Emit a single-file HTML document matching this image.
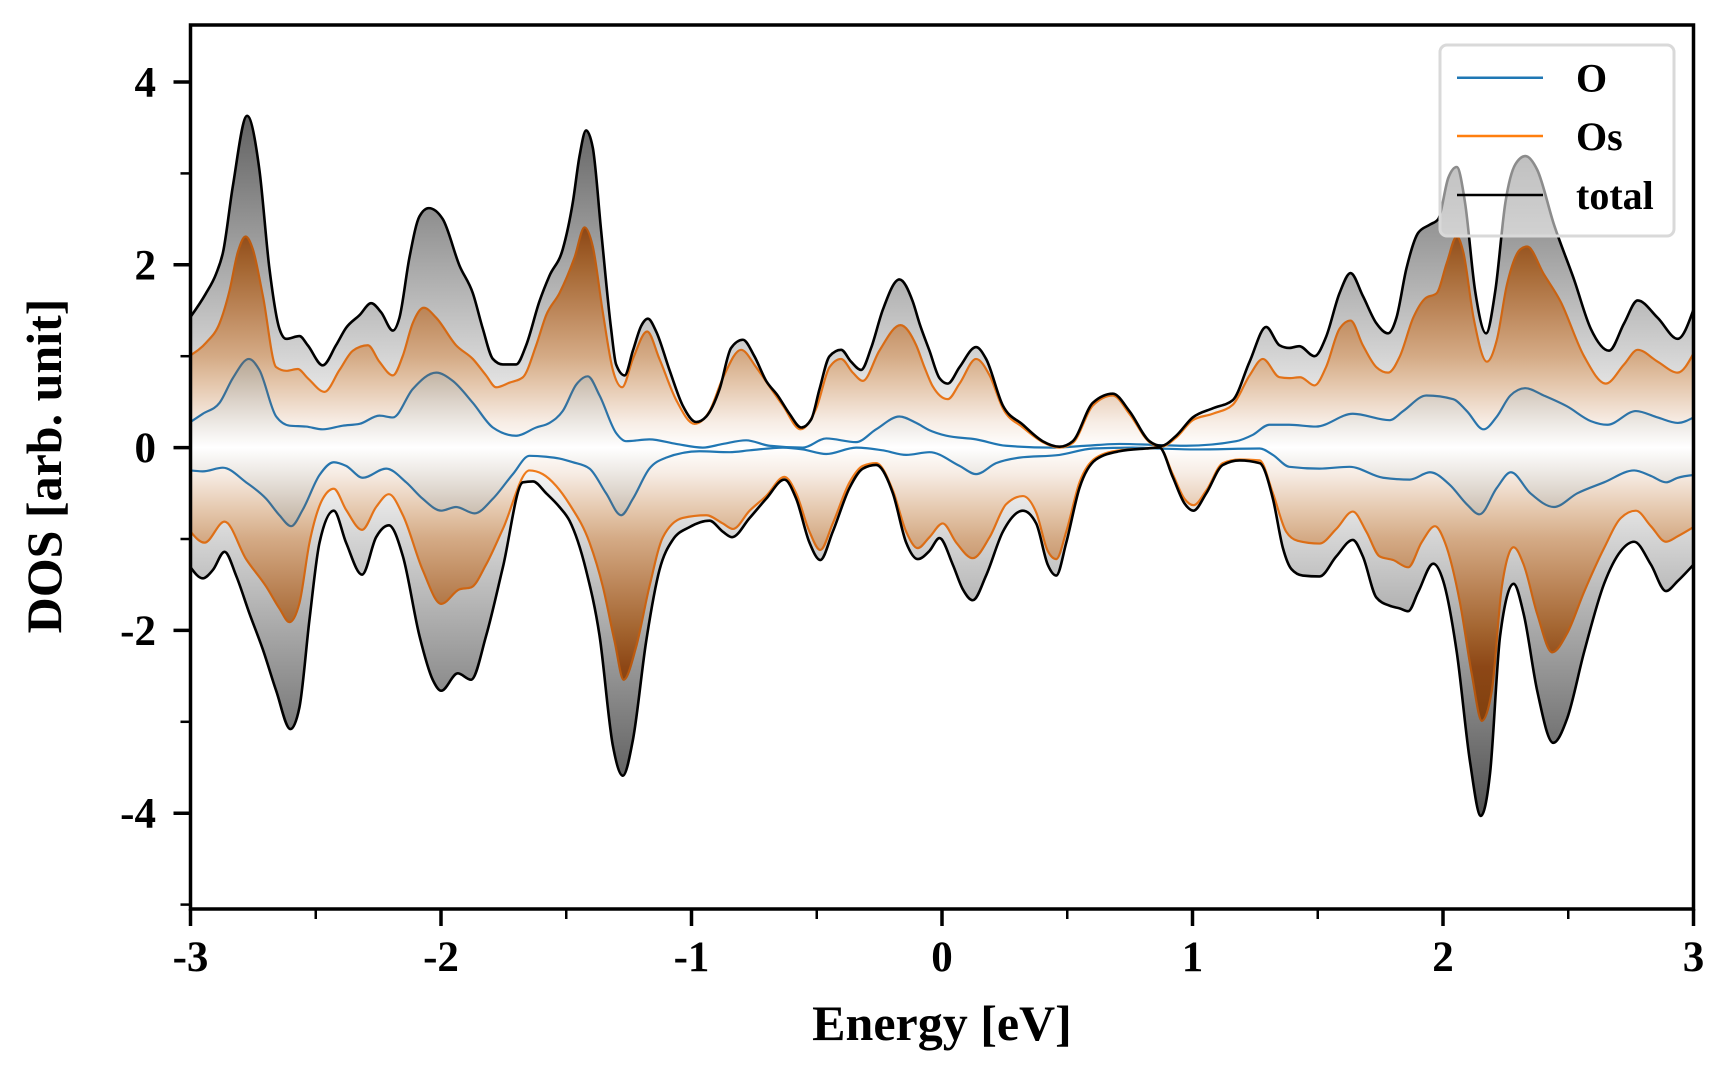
<!DOCTYPE html>
<html>
<head>
<meta charset="utf-8">
<style>
  html, body { margin: 0; padding: 0; background: #ffffff; }
  body { width: 1728px; height: 1080px; overflow: hidden; }
  svg { display: block; }
  .lbl { font-family: "Liberation Serif", "Times New Roman", serif; font-weight: bold; fill: #000; }
</style>
</head>
<body>
<svg id="chart" width="1728" height="1080" viewBox="0 0 1728 1080" xmlns="http://www.w3.org/2000/svg">
  <defs>
    <clipPath id="clip"><rect x="190.5" y="25" width="1503" height="884"/></clipPath>
    <linearGradient id="gT" gradientUnits="userSpaceOnUse" x1="0" y1="-9.4" x2="0" y2="904.6">
      <stop offset="0" stop-color="#3a3a3a"/>
      <stop offset="0.1" stop-color="#525252"/>
      <stop offset="0.2" stop-color="#7c7c7c"/>
      <stop offset="0.3" stop-color="#a8a8a8"/>
      <stop offset="0.4" stop-color="#d4d4d4"/>
      <stop offset="0.45" stop-color="#ebebeb"/>
      <stop offset="0.5" stop-color="#ffffff"/>
      <stop offset="0.55" stop-color="#ebebeb"/>
      <stop offset="0.6" stop-color="#d4d4d4"/>
      <stop offset="0.7" stop-color="#a8a8a8"/>
      <stop offset="0.8" stop-color="#7c7c7c"/>
      <stop offset="0.9" stop-color="#525252"/>
      <stop offset="1" stop-color="#3a3a3a"/>
    </linearGradient>
    <linearGradient id="gS" gradientUnits="userSpaceOnUse" x1="0" y1="-9.4" x2="0" y2="904.6">
      <stop offset="0" stop-color="#6a340a"/>
      <stop offset="0.2" stop-color="#80400e"/>
      <stop offset="0.26" stop-color="#8d4716"/>
      <stop offset="0.3" stop-color="#a3642f"/>
      <stop offset="0.35" stop-color="#bc8659"/>
      <stop offset="0.4" stop-color="#d4aa85"/>
      <stop offset="0.43" stop-color="#e4c6ab"/>
      <stop offset="0.47" stop-color="#f6ebe2"/>
      <stop offset="0.5" stop-color="#ffffff"/>
      <stop offset="0.53" stop-color="#f6ebe2"/>
      <stop offset="0.57" stop-color="#e4c6ab"/>
      <stop offset="0.6" stop-color="#d4aa85"/>
      <stop offset="0.65" stop-color="#bc8659"/>
      <stop offset="0.7" stop-color="#a3642f"/>
      <stop offset="0.74" stop-color="#8d4716"/>
      <stop offset="0.8" stop-color="#80400e"/>
      <stop offset="1" stop-color="#6a340a"/>
    </linearGradient>
    <linearGradient id="gO" gradientUnits="userSpaceOnUse" x1="0" y1="-9.4" x2="0" y2="904.6">
      <stop offset="0" stop-color="#605448"/>
      <stop offset="0.3" stop-color="#8a7a68"/>
      <stop offset="0.4" stop-color="#b6a591"/>
      <stop offset="0.42" stop-color="#c4b6a6"/>
      <stop offset="0.45" stop-color="#dcd3ca"/>
      <stop offset="0.475" stop-color="#eeeae6"/>
      <stop offset="0.5" stop-color="#ffffff"/>
      <stop offset="0.525" stop-color="#eeeae6"/>
      <stop offset="0.55" stop-color="#dcd3ca"/>
      <stop offset="0.58" stop-color="#c4b6a6"/>
      <stop offset="0.6" stop-color="#b6a591"/>
      <stop offset="0.7" stop-color="#8a7a68"/>
      <stop offset="1" stop-color="#605448"/>
    </linearGradient>
    <linearGradient id="sO" gradientUnits="userSpaceOnUse" x1="0" y1="-9.4" x2="0" y2="904.6">
      <stop offset="0" stop-color="#4d6b80"/>
      <stop offset="0.4" stop-color="#4d6b80"/>
      <stop offset="0.47" stop-color="#2a74ab"/>
      <stop offset="0.5" stop-color="#1f77b4"/>
      <stop offset="0.53" stop-color="#2a74ab"/>
      <stop offset="0.6" stop-color="#4d6b80"/>
      <stop offset="1" stop-color="#4d6b80"/>
    </linearGradient>
    <linearGradient id="sS" gradientUnits="userSpaceOnUse" x1="0" y1="-9.4" x2="0" y2="904.6">
      <stop offset="0" stop-color="#a8500c"/>
      <stop offset="0.26" stop-color="#b8580e"/>
      <stop offset="0.4" stop-color="#dc6e16"/>
      <stop offset="0.45" stop-color="#e9761a"/>
      <stop offset="0.5" stop-color="#f5801a"/>
      <stop offset="0.55" stop-color="#e9761a"/>
      <stop offset="0.6" stop-color="#dc6e16"/>
      <stop offset="0.74" stop-color="#b8580e"/>
      <stop offset="1" stop-color="#a8500c"/>
    </linearGradient>
  </defs>

  <g id="plot" clip-path="url(#clip)"></g>

  <!-- spines -->
  <rect x="190.5" y="25" width="1503" height="884" fill="none" stroke="#000" stroke-width="3.5"/>

  <!-- x ticks -->
  <g stroke="#000" stroke-width="3.5">
    <line x1="190.5" y1="909" x2="190.5" y2="926"/>
    <line x1="441" y1="909" x2="441" y2="926"/>
    <line x1="691.5" y1="909" x2="691.5" y2="926"/>
    <line x1="942" y1="909" x2="942" y2="926"/>
    <line x1="1192.5" y1="909" x2="1192.5" y2="926"/>
    <line x1="1443" y1="909" x2="1443" y2="926"/>
    <line x1="1693.5" y1="909" x2="1693.5" y2="926"/>
  </g>
  <g stroke="#000" stroke-width="2.5">
    <line x1="315.75" y1="909" x2="315.75" y2="919"/>
    <line x1="566.25" y1="909" x2="566.25" y2="919"/>
    <line x1="816.75" y1="909" x2="816.75" y2="919"/>
    <line x1="1067.25" y1="909" x2="1067.25" y2="919"/>
    <line x1="1317.75" y1="909" x2="1317.75" y2="919"/>
    <line x1="1568.25" y1="909" x2="1568.25" y2="919"/>
  </g>
  <!-- y ticks -->
  <g stroke="#000" stroke-width="3.5">
    <line x1="190.5" y1="82" x2="173.5" y2="82"/>
    <line x1="190.5" y1="264.8" x2="173.5" y2="264.8"/>
    <line x1="190.5" y1="447.6" x2="173.5" y2="447.6"/>
    <line x1="190.5" y1="630.4" x2="173.5" y2="630.4"/>
    <line x1="190.5" y1="813.2" x2="173.5" y2="813.2"/>
  </g>
  <g stroke="#000" stroke-width="2.5">
    <line x1="190.5" y1="173.4" x2="180.5" y2="173.4"/>
    <line x1="190.5" y1="356.2" x2="180.5" y2="356.2"/>
    <line x1="190.5" y1="539" x2="180.5" y2="539"/>
    <line x1="190.5" y1="721.8" x2="180.5" y2="721.8"/>
    <line x1="190.5" y1="904.6" x2="180.5" y2="904.6"/>
  </g>

  <!-- tick labels -->
  <g class="lbl" font-size="43" text-anchor="middle">
    <text x="190.5" y="971">-3</text>
    <text x="441" y="971">-2</text>
    <text x="691.5" y="971">-1</text>
    <text x="942" y="971">0</text>
    <text x="1192.5" y="971">1</text>
    <text x="1443" y="971">2</text>
    <text x="1693.5" y="971">3</text>
  </g>
  <g class="lbl" font-size="43" text-anchor="end">
    <text x="156" y="96.5">4</text>
    <text x="156" y="279.3">2</text>
    <text x="156" y="462.1">0</text>
    <text x="156" y="644.9">-2</text>
    <text x="156" y="827.7">-4</text>
  </g>

  <!-- axis labels -->
  <text class="lbl" x="942" y="1040" font-size="50" text-anchor="middle">Energy [eV]</text>
  <text class="lbl" font-size="50" text-anchor="middle" transform="translate(61,466) rotate(-90)">DOS [arb. unit]</text>

  <!-- legend -->
  <rect x="1440" y="45" width="234" height="191" rx="7" ry="7" fill="#ffffff" fill-opacity="0.55" stroke="#d9d9d9" stroke-width="3"/>
  <line x1="1457" y1="77.7" x2="1543" y2="77.7" stroke="#1f77b4" stroke-width="2.5"/>
  <line x1="1457" y1="136" x2="1543" y2="136" stroke="#ff7f0e" stroke-width="2.5"/>
  <line x1="1457" y1="195" x2="1543" y2="195" stroke="#000000" stroke-width="2.5"/>
  <g class="lbl" font-size="40">
    <text x="1576" y="91.5">O</text>
    <text x="1576" y="150">Os</text>
    <text x="1576" y="209">total</text>
  </g>
</svg>

<script>
(function(){
  var X = function(e){ return 190.5 + (e + 3) * 250.5; };
  var Y = function(d){ return 447.6 - d * 91.4; };

  var tu = [[-3.0,1.43],[-2.94,1.68],[-2.898,1.90],[-2.87,2.14],[-2.831,2.86],[-2.774,3.63],[-2.725,3.04],[-2.685,1.96],[-2.645,1.30],[-2.618,1.19],[-2.565,1.22],[-2.532,1.12],[-2.472,0.90],[-2.419,1.12],[-2.379,1.31],[-2.325,1.45],[-2.279,1.58],[-2.239,1.48],[-2.192,1.28],[-2.166,1.42],[-2.126,2.08],[-2.086,2.53],[-2.049,2.62],[-1.993,2.50],[-1.926,1.99],[-1.873,1.69],[-1.833,1.30],[-1.793,0.97],[-1.753,0.91],[-1.700,0.91],[-1.660,1.12],[-1.607,1.60],[-1.567,1.88],[-1.514,2.17],[-1.474,2.68],[-1.447,3.19],[-1.421,3.47],[-1.394,3.28],[-1.361,2.38],[-1.321,1.30],[-1.301,0.91],[-1.267,0.79],[-1.234,1.06],[-1.201,1.33],[-1.174,1.41],[-1.141,1.27],[-1.088,0.85],[-1.035,0.46],[-0.981,0.28],[-0.941,0.34],[-0.888,0.64],[-0.842,1.09],[-0.795,1.18],[-0.749,1.00],[-0.702,0.73],[-0.656,0.57],[-0.609,0.37],[-0.562,0.22],[-0.522,0.31],[-0.489,0.64],[-0.449,1.00],[-0.403,1.07],[-0.363,0.94],[-0.323,0.85],[-0.283,1.09],[-0.236,1.51],[-0.170,1.84],[-0.117,1.60],[-0.090,1.36],[-0.050,1.06],[-0.010,0.76],[0.023,0.70],[0.070,0.88],[0.136,1.10],[0.176,0.97],[0.243,0.46],[0.323,0.25],[0.402,0.07],[0.469,0.01],[0.522,0.07],[0.602,0.49],[0.682,0.59],[0.748,0.40],[0.828,0.07],[0.875,0.02],[0.935,0.13],[1.001,0.33],[1.081,0.43],[1.161,0.52],[1.228,0.94],[1.294,1.32],[1.347,1.12],[1.386,1.09],[1.426,1.11],[1.487,1.00],[1.533,1.21],[1.587,1.69],[1.631,1.91],[1.680,1.66],[1.734,1.36],[1.781,1.25],[1.814,1.42],[1.854,1.96],[1.901,2.35],[1.948,2.44],[1.981,2.50],[2.021,2.95],[2.055,3.07],[2.088,2.68],[2.128,1.72],[2.172,1.25],[2.209,1.72],[2.249,2.68],[2.289,3.10],[2.329,3.19],[2.376,3.04],[2.443,2.44],[2.523,1.84],[2.590,1.30],[2.663,1.06],[2.723,1.36],[2.777,1.61],[2.857,1.42],[2.937,1.19],[3.0,1.51]];

  var tl = [[-3.0,-1.31],[-2.951,-1.43],[-2.911,-1.34],[-2.864,-1.14],[-2.818,-1.40],[-2.764,-1.82],[-2.711,-2.21],[-2.658,-2.66],[-2.601,-3.08],[-2.565,-2.84],[-2.525,-1.88],[-2.485,-1.04],[-2.428,-0.69],[-2.379,-1.04],[-2.315,-1.39],[-2.259,-0.98],[-2.208,-0.85],[-2.152,-1.19],[-2.086,-2.06],[-2.033,-2.54],[-1.999,-2.66],[-1.933,-2.47],[-1.880,-2.54],[-1.820,-2.06],[-1.753,-1.31],[-1.673,-0.38],[-1.633,-0.37],[-1.580,-0.50],[-1.527,-0.65],[-1.487,-0.80],[-1.421,-1.34],[-1.367,-2.06],[-1.314,-3.26],[-1.274,-3.59],[-1.234,-3.20],[-1.181,-2.12],[-1.128,-1.34],[-1.075,-1.01],[-1.008,-0.87],[-0.928,-0.80],[-0.875,-0.92],[-0.838,-0.98],[-0.768,-0.77],[-0.702,-0.56],[-0.629,-0.35],[-0.582,-0.56],[-0.529,-1.04],[-0.486,-1.23],[-0.436,-0.92],[-0.369,-0.44],[-0.316,-0.23],[-0.263,-0.19],[-0.196,-0.50],[-0.143,-1.04],[-0.097,-1.22],[-0.050,-1.13],[-0.010,-0.99],[0.043,-1.28],[0.083,-1.55],[0.123,-1.67],[0.176,-1.40],[0.243,-0.92],[0.323,-0.69],[0.376,-0.83],[0.422,-1.28],[0.456,-1.40],[0.496,-1.04],[0.549,-0.44],[0.615,-0.13],[0.708,-0.04],[0.815,-0.01],[0.868,0.0],[0.921,-0.32],[0.968,-0.61],[1.004,-0.69],[1.055,-0.50],[1.121,-0.19],[1.188,-0.14],[1.268,-0.17],[1.321,-0.56],[1.361,-1.10],[1.395,-1.33],[1.440,-1.40],[1.507,-1.41],[1.574,-1.19],[1.640,-1.01],[1.680,-1.19],[1.734,-1.64],[1.787,-1.73],[1.828,-1.76],[1.861,-1.79],[1.901,-1.58],[1.961,-1.27],[2.001,-1.46],[2.055,-2.24],[2.108,-3.44],[2.151,-4.03],[2.188,-3.56],[2.228,-2.06],[2.282,-1.49],[2.322,-1.82],[2.376,-2.66],[2.440,-3.23],[2.496,-2.96],[2.563,-2.24],[2.643,-1.49],[2.710,-1.13],[2.763,-1.03],[2.830,-1.28],[2.890,-1.57],[2.937,-1.46],[3.0,-1.28]];

  var su = [[-3.0,1.01],[-2.937,1.15],[-2.884,1.36],[-2.844,1.72],[-2.811,2.14],[-2.780,2.31],[-2.751,2.17],[-2.711,1.66],[-2.658,0.88],[-2.618,0.84],[-2.572,0.86],[-2.532,0.76],[-2.465,0.61],[-2.405,0.85],[-2.352,1.06],[-2.292,1.12],[-2.246,0.94],[-2.192,0.79],[-2.153,1.00],[-2.113,1.36],[-2.069,1.53],[-2.019,1.42],[-1.940,1.12],[-1.873,0.97],[-1.820,0.79],[-1.780,0.66],[-1.727,0.71],[-1.673,0.77],[-1.620,1.12],[-1.580,1.45],[-1.527,1.69],[-1.467,2.08],[-1.427,2.41],[-1.394,2.20],[-1.354,1.48],[-1.314,0.85],[-1.277,0.66],[-1.234,0.97],[-1.177,1.27],[-1.128,0.97],[-1.061,0.52],[-0.988,0.26],[-0.928,0.40],[-0.875,0.76],[-0.802,1.07],[-0.742,0.88],[-0.689,0.67],[-0.635,0.46],[-0.565,0.20],[-0.502,0.43],[-0.449,0.88],[-0.403,0.97],[-0.356,0.82],[-0.316,0.73],[-0.250,1.06],[-0.166,1.34],[-0.103,1.12],[-0.070,0.88],[-0.037,0.67],[0.023,0.53],[0.070,0.70],[0.136,0.97],[0.190,0.79],[0.243,0.43],[0.323,0.22],[0.402,0.06],[0.469,0.0],[0.522,0.05],[0.602,0.46],[0.682,0.57],[0.748,0.37],[0.828,0.06],[0.875,0.01],[0.935,0.11],[1.001,0.30],[1.081,0.37],[1.161,0.47],[1.228,0.79],[1.281,0.97],[1.347,0.77],[1.386,0.76],[1.430,0.77],[1.487,0.68],[1.533,0.88],[1.587,1.30],[1.631,1.39],[1.680,1.12],[1.734,0.88],[1.781,0.82],[1.828,1.00],[1.881,1.42],[1.928,1.63],[1.975,1.69],[2.015,2.02],[2.055,2.31],[2.081,2.14],[2.122,1.42],[2.175,0.94],[2.215,1.18],[2.255,1.78],[2.309,2.17],[2.336,2.20],[2.402,1.90],[2.469,1.60],[2.563,1.00],[2.650,0.70],[2.723,0.91],[2.777,1.07],[2.857,0.94],[2.937,0.82],[3.0,1.03]];

  var sl = [[-3.0,-0.92],[-2.944,-1.04],[-2.864,-0.81],[-2.778,-1.22],[-2.698,-1.52],[-2.645,-1.76],[-2.605,-1.91],[-2.565,-1.70],[-2.525,-1.04],[-2.472,-0.56],[-2.428,-0.45],[-2.379,-0.68],[-2.315,-0.90],[-2.259,-0.65],[-2.208,-0.51],[-2.152,-0.74],[-2.073,-1.34],[-1.999,-1.71],[-1.926,-1.55],[-1.880,-1.53],[-1.820,-1.28],[-1.753,-0.89],[-1.647,-0.25],[-1.594,-0.29],[-1.540,-0.42],[-1.487,-0.62],[-1.407,-1.04],[-1.354,-1.52],[-1.307,-2.12],[-1.271,-2.54],[-1.221,-2.18],[-1.168,-1.52],[-1.114,-0.98],[-1.035,-0.77],[-0.941,-0.74],[-0.875,-0.83],[-0.835,-0.89],[-0.768,-0.69],[-0.702,-0.53],[-0.629,-0.32],[-0.582,-0.50],[-0.529,-0.92],[-0.486,-1.12],[-0.436,-0.83],[-0.369,-0.38],[-0.316,-0.20],[-0.263,-0.17],[-0.196,-0.47],[-0.143,-0.92],[-0.097,-1.10],[-0.050,-0.98],[0.003,-0.83],[0.057,-1.04],[0.123,-1.21],[0.190,-0.98],[0.256,-0.62],[0.323,-0.53],[0.376,-0.71],[0.422,-1.13],[0.456,-1.22],[0.496,-0.92],[0.549,-0.38],[0.615,-0.11],[0.708,-0.03],[0.815,-0.01],[0.868,0.0],[0.921,-0.29],[0.968,-0.56],[1.004,-0.63],[1.055,-0.47],[1.121,-0.17],[1.188,-0.13],[1.268,-0.14],[1.321,-0.50],[1.374,-0.92],[1.420,-1.02],[1.507,-1.05],[1.574,-0.89],[1.640,-0.70],[1.694,-0.92],[1.747,-1.19],[1.801,-1.23],[1.861,-1.31],[1.914,-1.04],[1.968,-0.86],[2.008,-1.04],[2.068,-1.70],[2.115,-2.48],[2.155,-2.99],[2.195,-2.66],[2.235,-1.52],[2.282,-1.09],[2.322,-1.28],[2.376,-1.82],[2.436,-2.24],[2.496,-2.03],[2.563,-1.58],[2.643,-1.10],[2.710,-0.77],[2.770,-0.69],[2.830,-0.86],[2.890,-1.03],[2.937,-0.97],[3.0,-0.87]];

  var ou = [[-3.0,0.28],[-2.951,0.37],[-2.884,0.49],[-2.831,0.76],[-2.767,0.97],[-2.725,0.85],[-2.658,0.34],[-2.604,0.24],[-2.538,0.23],[-2.472,0.20],[-2.392,0.24],[-2.325,0.26],[-2.246,0.35],[-2.192,0.33],[-2.113,0.64],[-2.019,0.82],[-1.953,0.73],[-1.873,0.49],[-1.793,0.22],[-1.700,0.13],[-1.620,0.22],[-1.567,0.27],[-1.514,0.40],[-1.460,0.69],[-1.414,0.78],[-1.367,0.57],[-1.301,0.16],[-1.261,0.07],[-1.168,0.09],[-1.061,0.04],[-0.955,0.00],[-0.875,0.04],[-0.782,0.08],[-0.689,0.02],[-0.556,0.0],[-0.462,0.10],[-0.343,0.06],[-0.263,0.20],[-0.170,0.34],[-0.103,0.27],[-0.050,0.19],[0.017,0.13],[0.136,0.09],[0.256,0.02],[0.442,0.00],[0.575,0.02],[0.708,0.04],[0.975,0.02],[1.174,0.07],[1.241,0.14],[1.307,0.25],[1.386,0.25],[1.493,0.23],[1.640,0.37],[1.787,0.30],[1.841,0.40],[1.934,0.57],[2.041,0.53],[2.095,0.40],[2.162,0.20],[2.215,0.34],[2.269,0.57],[2.329,0.65],[2.402,0.57],[2.496,0.45],[2.590,0.29],[2.656,0.25],[2.770,0.40],[2.857,0.33],[2.937,0.27],[3.0,0.33]];

  var ol = [[-3.0,-0.25],[-2.951,-0.26],[-2.871,-0.22],[-2.778,-0.38],[-2.698,-0.56],[-2.645,-0.74],[-2.598,-0.86],[-2.552,-0.68],[-2.485,-0.30],[-2.428,-0.16],[-2.379,-0.20],[-2.312,-0.33],[-2.219,-0.23],[-2.139,-0.38],[-2.073,-0.56],[-1.999,-0.69],[-1.940,-0.65],[-1.866,-0.72],[-1.793,-0.56],[-1.713,-0.29],[-1.647,-0.09],[-1.580,-0.10],[-1.527,-0.12],[-1.474,-0.16],[-1.407,-0.23],[-1.341,-0.50],[-1.281,-0.74],[-1.234,-0.56],[-1.168,-0.23],[-1.101,-0.11],[-0.968,-0.04],[-0.848,-0.05],[-0.768,-0.03],[-0.635,0.0],[-0.556,-0.02],[-0.462,-0.07],[-0.343,0.0],[-0.236,-0.03],[-0.143,-0.08],[-0.050,-0.05],[0.070,-0.20],[0.136,-0.29],[0.216,-0.17],[0.309,-0.11],[0.469,-0.08],[0.602,-0.01],[0.762,0.0],[0.868,-0.01],[1.014,-0.02],[1.268,-0.01],[1.321,-0.08],[1.386,-0.21],[1.507,-0.23],[1.627,-0.21],[1.761,-0.33],[1.868,-0.35],[1.948,-0.27],[2.028,-0.41],[2.095,-0.62],[2.146,-0.73],[2.215,-0.44],[2.271,-0.27],[2.349,-0.50],[2.443,-0.65],[2.536,-0.50],[2.643,-0.38],[2.763,-0.25],[2.830,-0.31],[2.890,-0.38],[2.937,-0.33],[3.0,-0.30]];

  function sgn(v){ return v > 0 ? 1 : (v < 0 ? -1 : 0); }
  function path(data){
    var xs = data.map(function(p){ return X(p[0]); });
    var ys = data.map(function(p){ return Y(p[1]); });
    var n = xs.length, m = new Array(n), i;
    for (i = 1; i < n - 1; i++){
      var h0 = xs[i] - xs[i-1], h1 = xs[i+1] - xs[i];
      var s0 = (ys[i] - ys[i-1]) / h0, s1 = (ys[i+1] - ys[i]) / h1;
      var p = (s0 * h1 + s1 * h0) / (h0 + h1);
      m[i] = (sgn(s0) + sgn(s1)) * Math.min(Math.abs(s0), Math.abs(s1), 0.5 * Math.abs(p)) || 0;
    }
    var h = xs[1] - xs[0];
    m[0] = (3 * (ys[1] - ys[0]) / h - m[1]) / 2;
    h = xs[n-1] - xs[n-2];
    m[n-1] = (3 * (ys[n-1] - ys[n-2]) / h - m[n-2]) / 2;
    var d = 'M' + xs[0].toFixed(2) + ',' + ys[0].toFixed(2);
    for (i = 0; i < n - 1; i++){
      var dx = (xs[i+1] - xs[i]) / 3;
      d += 'C' + (xs[i] + dx).toFixed(2) + ',' + (ys[i] + dx * m[i]).toFixed(2) + ' ' +
           (xs[i+1] - dx).toFixed(2) + ',' + (ys[i+1] - dx * m[i+1]).toFixed(2) + ' ' +
           xs[i+1].toFixed(2) + ',' + ys[i+1].toFixed(2);
    }
    return d;
  }
  var close = 'L' + X(3).toFixed(2) + ',' + Y(0).toFixed(2) + 'L' + X(-3).toFixed(2) + ',' + Y(0).toFixed(2) + 'Z';

  var NS = 'http://www.w3.org/2000/svg';
  var g = document.getElementById('plot');
  function add(d, attrs){
    var el = document.createElementNS(NS, 'path');
    el.setAttribute('d', d);
    for (var k in attrs) el.setAttribute(k, attrs[k]);
    g.appendChild(el);
  }
  var P = { tu: path(tu), tl: path(tl), su: path(su), sl: path(sl), ou: path(ou), ol: path(ol) };

  add(P.tu + close, { fill: 'url(#gT)', stroke: 'none' });
  add(P.tl + close, { fill: 'url(#gT)', stroke: 'none' });
  add(P.su + close, { fill: 'url(#gS)', stroke: 'none' });
  add(P.sl + close, { fill: 'url(#gS)', stroke: 'none' });
  add(P.ou + close, { fill: 'url(#gO)', stroke: 'none' });
  add(P.ol + close, { fill: 'url(#gO)', stroke: 'none' });

  var lineO = { fill: 'none', stroke: 'url(#sO)', 'stroke-width': '2.2', 'stroke-linejoin': 'round', 'stroke-linecap': 'round' };
  var lineS = { fill: 'none', stroke: 'url(#sS)', 'stroke-width': '2.2', 'stroke-linejoin': 'round', 'stroke-linecap': 'round' };
  var lineT = { fill: 'none', stroke: '#000000', 'stroke-width': '2.6', 'stroke-linejoin': 'round', 'stroke-linecap': 'round' };
  add(P.ou, lineO); add(P.ol, lineO);
  add(P.su, lineS); add(P.sl, lineS);
  add(P.tu, lineT); add(P.tl, lineT);
})();
</script>
</body>
</html>
